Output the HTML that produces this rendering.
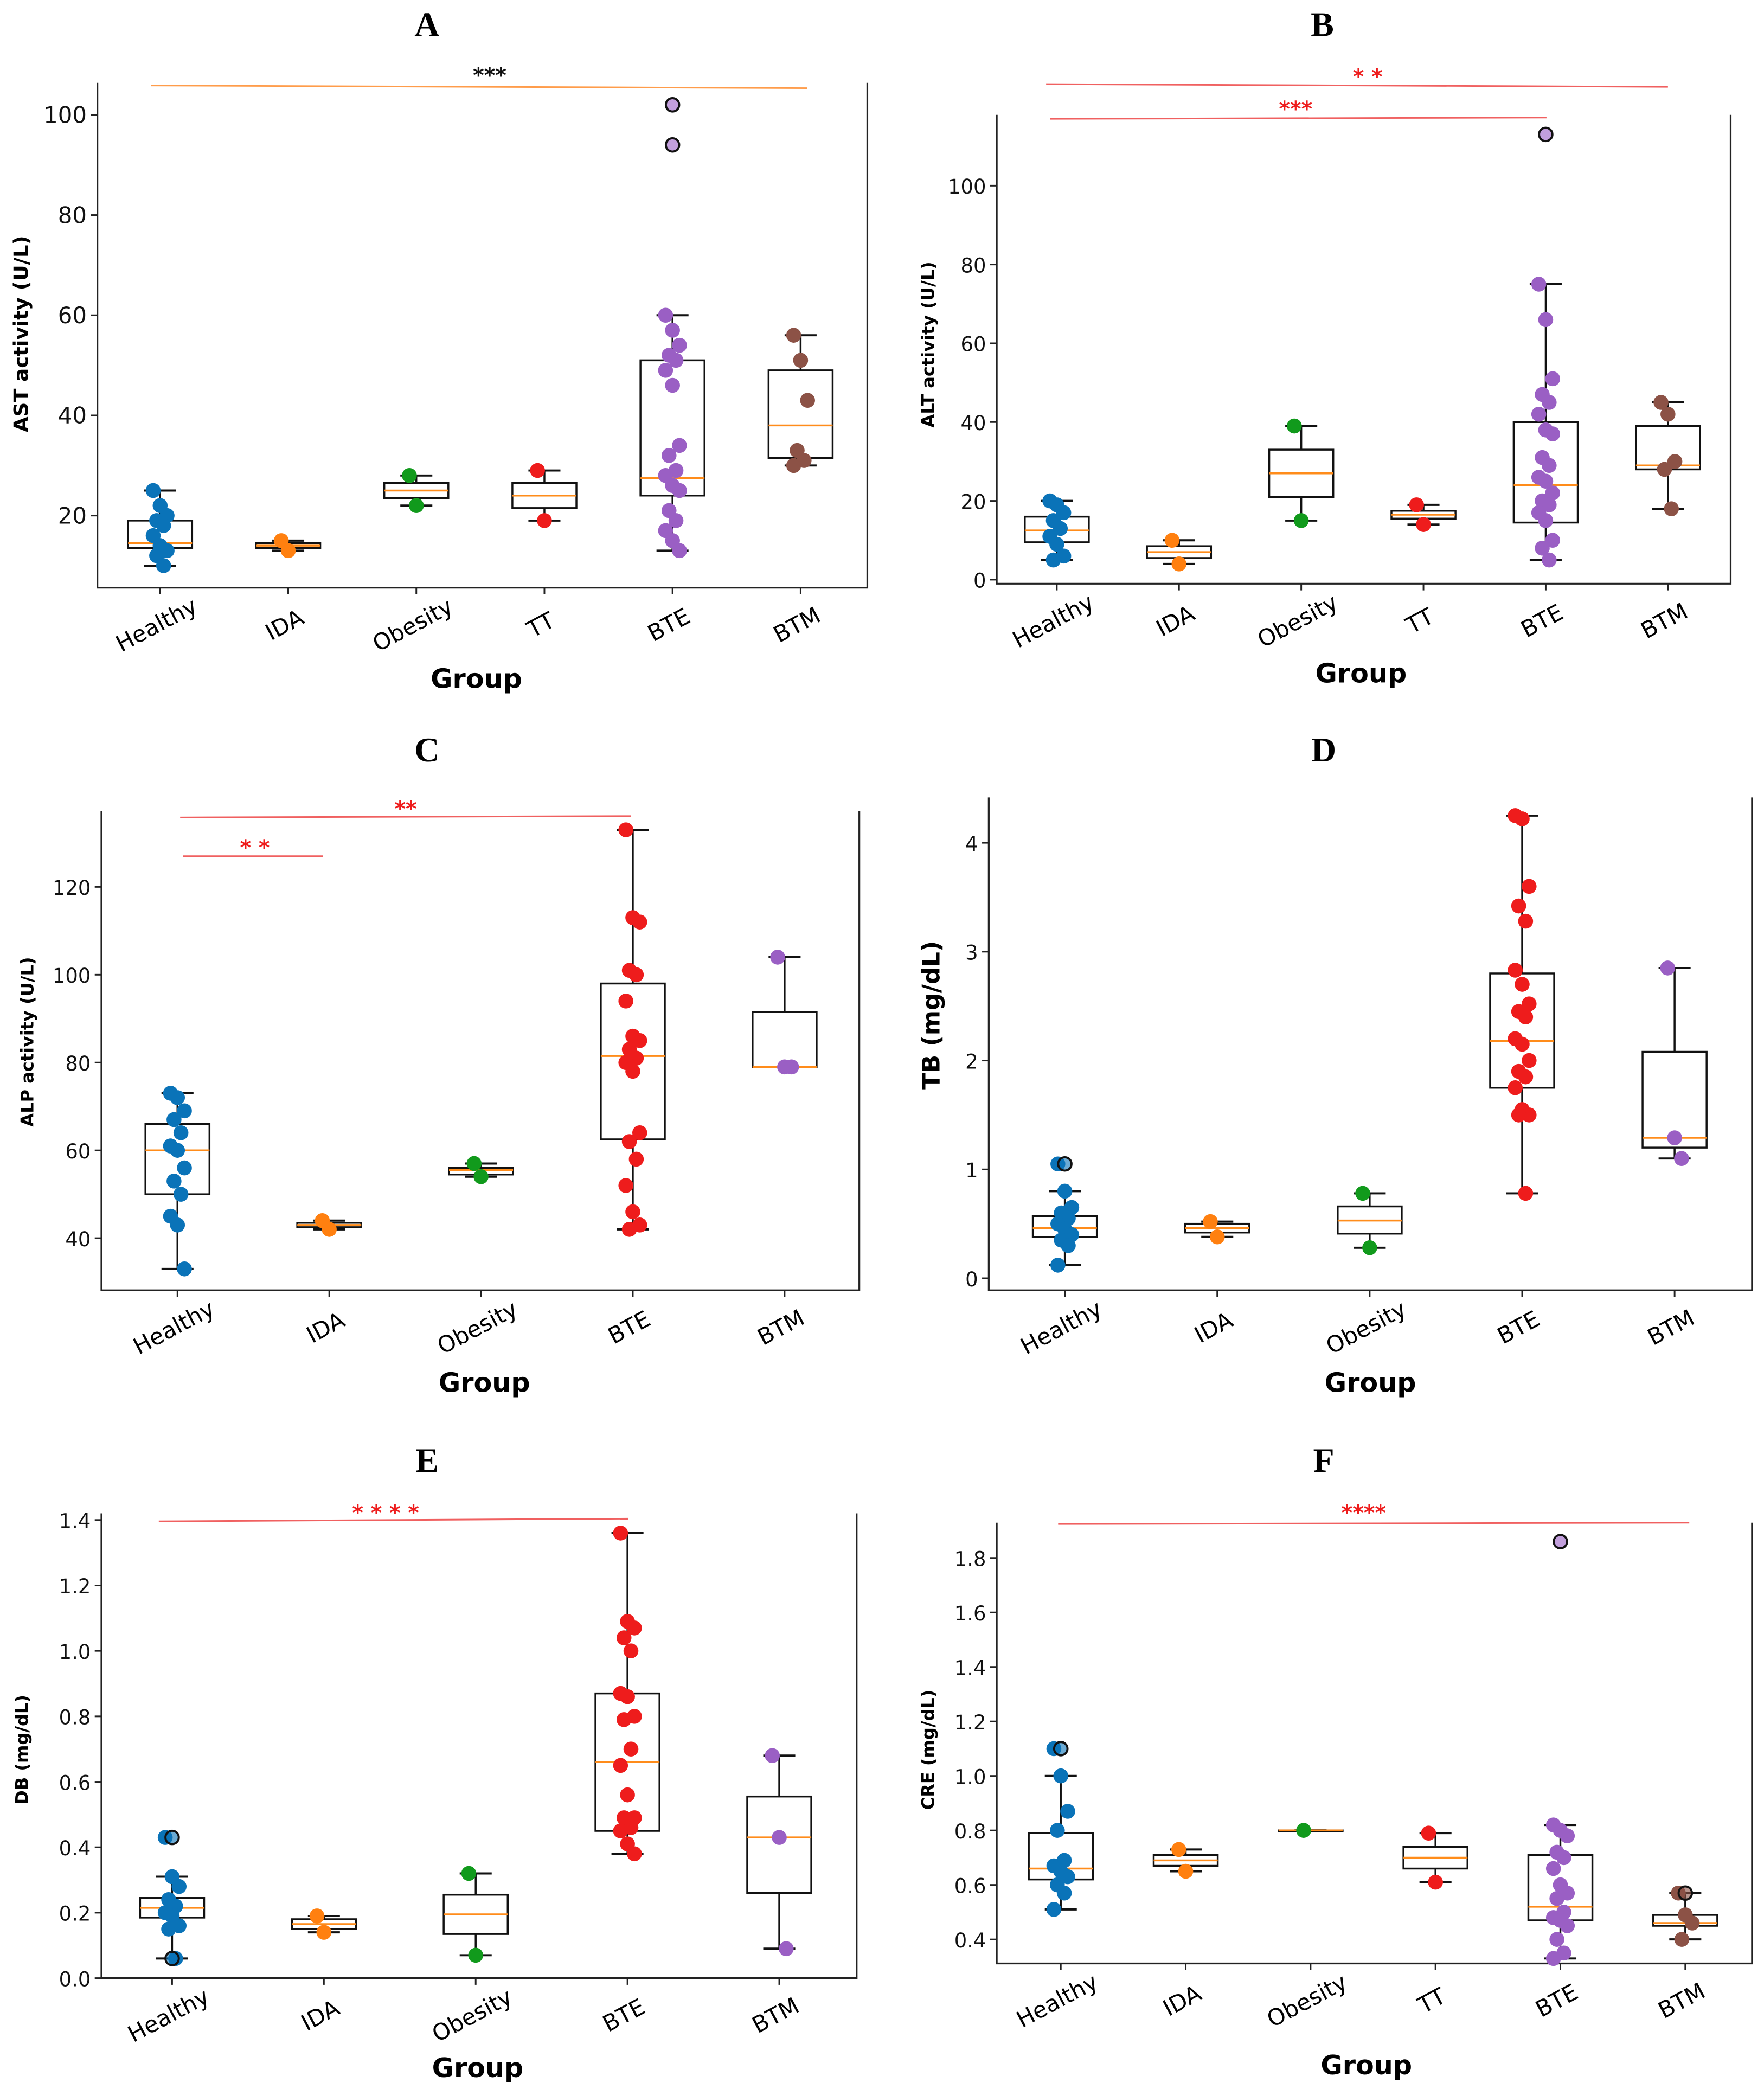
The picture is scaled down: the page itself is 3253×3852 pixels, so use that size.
<!DOCTYPE html>
<html><head><meta charset="utf-8"><style>
html,body{margin:0;padding:0;background:#fff}
svg{display:block}
text{font-family:"DejaVu Sans","Liberation Sans",sans-serif}
</style></head><body>
<svg id="fig" xmlns="http://www.w3.org/2000/svg" width="3253" height="3852" viewBox="0 0 1322 1564" preserveAspectRatio="none"></svg>
<script>
// ---- Data ----
const catsA = ["Healthy","IDA","Obesity","TT","BTE","BTM"];
const catsC = ["Healthy","IDA","Obesity","BTE","BTM"];
const colsA = ["#0a73b8","#ff8010","#119a1c","#ee1c1c","#9a5fc4","#8c5246"];
const colsC = ["#0a73b8","#ff8010","#119a1c","#ee1c1c","#9a5fc4"];

// box stats: [whiskLo, q1, median, q3, whiskHi]
const astBoxes = [[10,13.5,14.5,19,25],[13,13.5,14,14.5,15],[22,23.5,25,26.5,28],[19,21.5,24,26.5,29],[13,24,27.5,51,60],[30,31.5,38,49,56]];
const astPoints = [[25,22,20,19,18,16,14,13,12,10],[15,13],[28,22],[29,19],[60,57,54,52,51,49,46,34,32,29,28,26,25,21,19,17,15,13],[56,51,43,33,31,30]];
const astOutliers = [[],[],[],[],[102,94],[]];

const altBoxes = [[5,9.5,12.5,16,20],[4,5.5,7,8.5,10],[15,21,27,33,39],[14,15.5,16.5,17.5,19],[5,14.5,24,40,75],[18,28,29,39,45]];
const altPoints = [[20,19,17,15,13,11,9,6,5],[10,4],[39,15],[19,14],[75,66,51,47,45,42,38,37,31,29,26,25,22,20,19,17,15,10,8,5],[45,42,30,28,18]];
const altOutliers = [[],[],[],[],[113],[]];

const alpBoxes = [[33,50,60,66,73],[42,42.5,43,43.5,44],[54,54.5,55.5,56,57],[42,62.5,81.5,98,133],[79,79,79,91.5,104]];
const alpPoints = [[73,72,69,67,64,61,60,56,53,50,45,43,33],[44,42],[57,54],[133,113,112,101,100,94,86,85,83,81,80,78,64,62,58,52,46,43,42],[104,79,79]];
const alpOutliers = [[],[],[],[],[]];

const tbBoxes = [[0.12,0.38,0.46,0.57,0.8],[0.38,0.42,0.46,0.5,0.52],[0.28,0.41,0.53,0.66,0.78],[0.78,1.75,2.18,2.8,4.25],[1.1,1.2,1.29,2.08,2.85]];
const tbPoints = [[1.05,0.8,0.65,0.6,0.55,0.5,0.45,0.4,0.35,0.3,0.12],[0.52,0.38],[0.78,0.28],[4.25,4.22,3.6,3.42,3.28,2.83,2.7,2.52,2.45,2.4,2.2,2.15,2.0,1.9,1.85,1.75,1.55,1.5,1.5,0.78],[2.85,1.29,1.1]];
const tbOutliers = [[1.05],[],[],[],[]];

const dbBoxes = [[0.06,0.185,0.215,0.245,0.31],[0.14,0.15,0.165,0.18,0.19],[0.07,0.135,0.195,0.255,0.32],[0.38,0.45,0.66,0.87,1.36],[0.09,0.26,0.43,0.555,0.68]];
const dbPoints = [[0.43,0.31,0.28,0.24,0.22,0.2,0.19,0.16,0.15,0.06],[0.19,0.14],[0.32,0.07],[1.36,1.09,1.07,1.04,1.0,0.87,0.86,0.8,0.79,0.7,0.65,0.56,0.49,0.49,0.46,0.45,0.41,0.38],[0.68,0.43,0.09]];
const dbOutliers = [[0.43,0.06],[],[],[],[]];

const creBoxes = [[0.51,0.62,0.66,0.79,1.0],[0.65,0.67,0.69,0.71,0.73],[0.8,0.8,0.8,0.8,0.8],[0.61,0.66,0.7,0.74,0.79],[0.33,0.47,0.52,0.71,0.82],[0.4,0.45,0.46,0.49,0.57]];
const crePoints = [[1.1,1.0,0.87,0.8,0.69,0.67,0.65,0.63,0.6,0.57,0.51],[0.73,0.65],[0.8],[0.79,0.61],[0.82,0.8,0.78,0.72,0.7,0.66,0.6,0.57,0.55,0.5,0.48,0.47,0.45,0.4,0.35,0.33],[0.57,0.49,0.46,0.4]];
const creOutliers = [[1.1],[],[],[],[1.86],[0.57]];

const astTicks = [20,40,60,80,100];
const altTicks = [0,20,40,60,80,100];
const alpTicks = [40,60,80,100,120];
const tbTicks = [0,1,2,3,4];
const dbTicks = [0,0.2,0.4,0.6,0.8,1.0,1.2,1.4];
const creTicks = [0.4,0.6,0.8,1.0,1.2,1.4,1.6,1.8];

const NS="http://www.w3.org/2000/svg";
const svg=document.getElementById('fig');
function mk(tag,attrs,parent,txt){const e=document.createElementNS(NS,tag);for(const k in attrs)e.setAttribute(k,attrs[k]);if(txt!==undefined)e.textContent=txt;(parent||svg).appendChild(e);return e;}

function panel(o){
  const g=mk('g',{});
  
  
  const y=v=>o.y0px-(v-o.y0v)*o.pxPer;
  const n=o.cats.length;
  const x=i=>o.xFirst+i*(o.xLast-o.xFirst)/(n-1);
  const t=mk('text',{x:o.titleX,y:o.titleY,'font-size':26,'font-weight':'bold','text-anchor':'middle',style:'font-family:"Liberation Serif",serif'},g,o.id);
  
  
  const ax=mk('path',{d:`M${o.L},${o.T}V${o.B}H${o.R}V${o.T}`,fill:'none',stroke:'#222','stroke-width':1.3},g);
  
  
  o.ticks.forEach(v=>{
    const yy=y(v);
    mk('line',{x1:o.L-5,x2:o.L,y1:yy,y2:yy,stroke:'#222','stroke-width':1.2},g);
    const lab=mk('text',{x:o.L-8,y:yy+6,'font-size':o.tickFs||17,'text-anchor':'end',fill:'#111'},g,o.fmt?o.fmt(v):String(v));
    
    
  });
  const yl=mk('text',{x:0,y:0,'font-size':o.ylFs||15,'font-weight':'bold','text-anchor':'middle',transform:`translate(${o.ylX},${o.ylY}) rotate(-90)`},g,o.ylabel);
  
  
  const xl=mk('text',{x:o.xlX,y:o.xlY,'font-size':20,'font-weight':'bold','text-anchor':'middle'},g,'Group');
  
  
  o.cats.forEach((c,i)=>{
    const xx=x(i);
    mk('line',{x1:xx,x2:xx,y1:o.B,y2:o.B+5,stroke:'#222','stroke-width':1.2},g);
    const tl=mk('text',{x:0,y:0,'font-size':17,'text-anchor':'middle',transform:`translate(${xx},${o.B+33}) rotate(-28)`},g,c);
    
    
    const b=o.boxes[i]; const hw=24, cw=12;
    const bg=mk('g',{},g);
    
    
    mk('line',{x1:xx,x2:xx,y1:y(b[0]),y2:y(b[1]),stroke:'#111','stroke-width':1.4},bg);
    mk('line',{x1:xx,x2:xx,y1:y(b[3]),y2:y(b[4]),stroke:'#111','stroke-width':1.4},bg);
    mk('line',{x1:xx-cw,x2:xx+cw,y1:y(b[0]),y2:y(b[0]),stroke:'#111','stroke-width':1.6},bg);
    mk('line',{x1:xx-cw,x2:xx+cw,y1:y(b[4]),y2:y(b[4]),stroke:'#111','stroke-width':1.6},bg);
    mk('rect',{x:xx-hw,y:y(b[3]),width:2*hw,height:Math.max(0.5,y(b[1])-y(b[3])),fill:'none',stroke:'#111','stroke-width':1.4},bg);
    mk('line',{x1:xx-hw,x2:xx+hw,y1:y(b[2]),y2:y(b[2]),stroke:'#ff8c1a','stroke-width':1.4},bg);
    o.points[i].forEach((v,j)=>{
      const off=((j*7)%5-2)*2.6;
      const p=mk('circle',{cx:xx+off,cy:y(v),r:5.6,fill:o.cols[i]},bg);
      
      
    });
    o.outliers[i].forEach(v=>{
      const p=mk('circle',{cx:xx,cy:y(v),r:5,fill:o.cols[i],'fill-opacity':0.6,stroke:'#111','stroke-width':1.6},bg);
      
      
    });
  });
  (o.sig||[]).forEach(s=>{
    const l=mk('line',{x1:s[0],y1:s[1],x2:s[2],y2:s[3],stroke:s[7]||'#f06060','stroke-width':1.2},g);
    
    
    const st=mk('text',{x:s[4],y:s[5],'font-size':16,'font-weight':'bold','text-anchor':'middle',fill:s[8]||'#ee1c1c'},g,s[6]);
    
    
  });
}

panel({id:'A',cats:catsA,cols:colsA,boxes:astBoxes,points:astPoints,outliers:astOutliers,ticks:astTicks,
  L:73,R:650,T:62,B:440,y0px:386,y0v:20,pxPer:3.75,xFirst:120,xLast:600,titleX:320,titleY:27,
  ylabel:'AST activity (U/L)',ylX:21,ylY:250,xlX:357,xlY:515,
  sig:[[113,64,605,66,367,62,'***','#ff9c4a','#111']]});
panel({id:'B',cats:catsA,cols:colsA,boxes:altBoxes,points:altPoints,outliers:altOutliers,ticks:altTicks,
  L:747,R:1297,T:86,B:437,y0px:434,y0v:0,pxPer:2.95,xFirst:792,xLast:1250,titleX:991,titleY:27,tickFs:15,
  ylabel:'ALT activity (U/L)',ylX:700,ylY:258,ylFs:13,xlX:1020,xlY:511,
  sig:[[784,63,1250,65,1025,63,'* *'],[787,89,1159,88,971,87,'***']]});
panel({id:'C',cats:catsC,cols:colsC,boxes:alpBoxes,points:alpPoints,outliers:alpOutliers,ticks:alpTicks,
  L:76,R:644,T:607,B:966,y0px:927,y0v:40,pxPer:3.2875,xFirst:133,xLast:588,titleX:320,titleY:570,tickFs:15,
  ylabel:'ALP activity (U/L)',ylX:25,ylY:780,ylFs:13,xlX:363,xlY:1042,
  sig:[[135,612,473,611,304,611,'**'],[137,641,242,641,191,640,'* *']]});
panel({id:'D',cats:catsC,cols:colsC,boxes:tbBoxes,points:tbPoints,outliers:tbOutliers,ticks:tbTicks,
  L:741,R:1313,T:597,B:966,y0px:957,y0v:0,pxPer:81.5,xFirst:798,xLast:1255,titleX:992,titleY:570,tickFs:15,
  ylabel:'TB (mg/dL)',ylX:704,ylY:760,ylFs:18,xlX:1027,xlY:1042,sig:[]});
panel({id:'E',cats:catsC,cols:colsC,boxes:dbBoxes,points:dbPoints,outliers:dbOutliers,ticks:dbTicks,
  L:76,R:642,T:1133,B:1481,y0px:1481,y0v:0,pxPer:245,xFirst:129,xLast:584,titleX:320,titleY:1102,tickFs:15,
  fmt:v=>v.toFixed(1),ylabel:'DB (mg/dL)',ylX:21,ylY:1310,ylFs:13,xlX:358,xlY:1555,
  sig:[[119,1139,471,1137,289,1138,'* * * *']]});
panel({id:'F',cats:catsA,cols:colsA,boxes:creBoxes,points:crePoints,outliers:creOutliers,ticks:creTicks,
  L:747,R:1313,T:1140,B:1470,y0px:1452,y0v:0.4,pxPer:204,xFirst:795,xLast:1263,titleX:992,titleY:1102,tickFs:15,
  fmt:v=>v.toFixed(1),ylabel:'CRE (mg/dL)',ylX:700,ylY:1310,ylFs:13,xlX:1024,xlY:1553,
  sig:[[793,1141,1266,1140,1022,1138,'****']]});
</script>
</body></html>
